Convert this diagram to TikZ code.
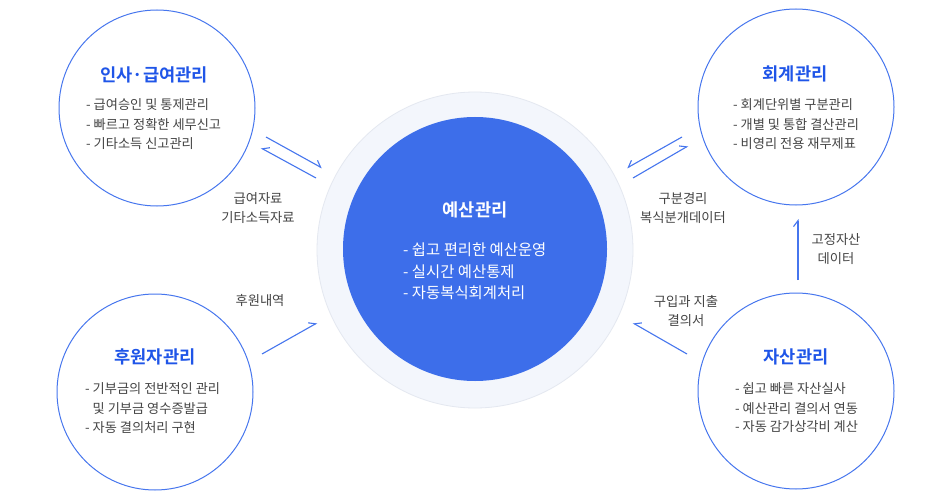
\documentclass[tikz,border=0pt]{standalone}
\usepackage{fontspec}
\setmainfont{Noto Sans CJK KR}[BoldFont={Noto Sans CJK KR Bold}]
\usetikzlibrary{arrows.meta}
\definecolor{ringblue}{HTML}{4676EE}
\definecolor{titleblue}{HTML}{1F55E8}
\definecolor{fillblue}{HTML}{3D6EEA}
\definecolor{txt}{HTML}{444444}
\definecolor{halo}{HTML}{F3F6FC}
\definecolor{haloedge}{HTML}{E4E8F0}
\begin{document}
\begin{tikzpicture}[x=1pt,y=-1pt,
  side/.style={circle,draw=ringblue,line width=1pt,fill=white,minimum size=196pt,inner sep=0pt},
  ttl/.style={font=\fontsize{17.6}{21}\selectfont\bfseries,text=titleblue,anchor=center,inner sep=0pt},
  itm/.style={font=\fontsize{13.2}{16}\selectfont,text=txt,anchor=base west,inner sep=0pt},
  citm/.style={font=\fontsize{15.4}{18}\selectfont,text=white,anchor=base west,inner sep=0pt},
  lbl/.style={font=\fontsize{13.3}{18.5}\selectfont,text=txt,anchor=center,align=center,inner sep=0pt},
  link/.style={draw=ringblue,line width=1.1pt,-{Straight Barb[harpoon,length=6pt,width=9pt]}},
  linkr/.style={draw=ringblue,line width=1.1pt,-{Straight Barb[harpoon,swap,length=6pt,width=9pt]}}]
\useasboundingbox[fill=white] (0,0) rectangle (950,500);

% centre
\node[circle,fill=halo,draw=haloedge,line width=0.8pt,minimum size=316pt,inner sep=0pt] (haloc) at (475,250) {};
\node[circle,fill=fillblue,minimum size=264pt,inner sep=0pt] (core) at (475,249) {};
\node[ttl,text=white] (coret) at (475,210) {예산관리};
\node[citm] (c1) at (403,255.5) {- 쉽고 편리한 예산운영};
\node[citm] (c2) at (403,277.5) {- 실시간 예산통제};
\node[citm] (c3) at (403,298.5) {- 자동복식회계처리};

% top-left
\node[side] (hr) at (157,108) {};
\node[ttl] (hrt) at (154,75) {인사·급여관리};
\node[itm] (hr1) at (86,110) {- 급여승인 및 통제관리};
\node[itm] (hr2) at (86,130) {- 빠르고 정확한 세무신고};
\node[itm] (hr3) at (86,149) {- 기타소득 신고관리};

% top-right
\node[side] (ac) at (796,107) {};
\node[ttl] (act) at (795,74) {회계관리};
\node[itm] (ac1) at (733,110) {- 회계단위별 구분관리};
\node[itm] (ac2) at (733,130) {- 개별 및 통합 결산관리};
\node[itm] (ac3) at (733,149) {- 비영리 전용 재무제표};

% bottom-left
\node[side] (sp) at (155,392) {};
\node[ttl] (spt) at (155,357) {후원자관리};
\node[itm] (sp1) at (85,393) {- 기부금의 전반적인 관리};
\node[itm] (sp2) at (85,413) {\phantom{- }및 기부금 영수증발급};
\node[itm] (sp3) at (85,432) {- 자동 결의처리 구현};

% bottom-right
\node[side] (as) at (796,391) {};
\node[ttl] (ast) at (796,357) {자산관리};
\node[itm] (as1) at (735,393) {- 쉽고 빠른 자산실사};
\node[itm] (as2) at (735,413) {- 예산관리 결의서 연동};
\node[itm] (as3) at (735,431) {- 자동 감가상각비 계산};

% labels
\node[lbl] (l1) at (258,208) {급여자료\\기타소득자료};
\node[lbl] (l2) at (683,208) {구분경리\\복식분개데이터};
\node[lbl] (l3) at (836,249) {고정자산\\데이터};
\node[lbl] (l4) at (686,311) {구입과 지출\\결의서};
\node[lbl] (l5) at (260,300) {후원내역};

% connector end points
\coordinate (a1s) at (266,137); \coordinate (a1e) at (322,168);
\coordinate (a2s) at (316,178); \coordinate (a2e) at (261,148);
\coordinate (b1s) at (682,137); \coordinate (b1e) at (627,168);
\coordinate (b2s) at (633,178); \coordinate (b2e) at (688,146);
\coordinate (vs) at (798,280); \coordinate (ve) at (798,219);
\coordinate (d1s) at (687,354); \coordinate (d1e) at (633,323);
\coordinate (e1s) at (262,354); \coordinate (e1e) at (317,323);

\draw[link] (a1s) -- (a1e);
\draw[linkr] (a2s) -- (a2e);
\draw[linkr] (b1s) -- (b1e);
\draw[link] (b2s) -- (b2e);
\draw[link] (vs) -- (ve);
\draw[linkr] (d1s) -- (d1e);
\draw[link] (e1s) -- (e1e);
\end{tikzpicture}
\end{document}
